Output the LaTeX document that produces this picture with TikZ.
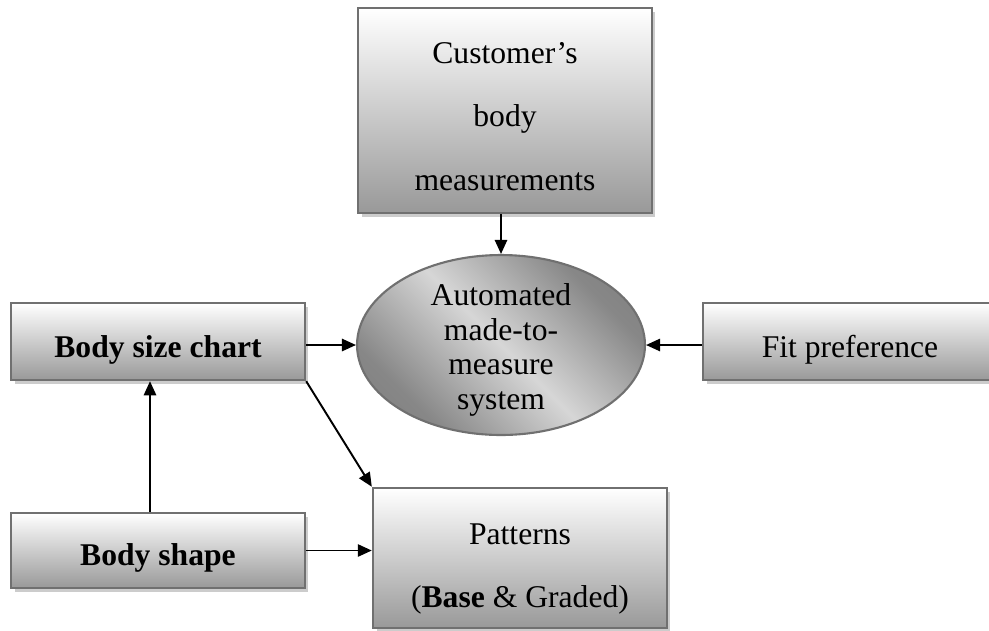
\documentclass[tikz,border=0pt]{standalone}
\usepackage{fontspec}
\setmainfont{Liberation Serif}
\usetikzlibrary{shapes.geometric,arrows.meta,shadows}

\pgfdeclarehorizontalshading{ellshade}{100bp}{%
  color(0bp)=(black!55); color(28bp)=(black!47); color(50bp)=(black!16);
  color(72bp)=(black!47); color(100bp)=(black!55)}

% centred block of lines, lowered by #1, taking no vertical room of its own
\newcommand\ctext[2]{\raisebox{#1}[0pt][0pt]{\begin{tabular}{@{}c@{}}#2\end{tabular}}}

\begin{document}
\begin{tikzpicture}[x=0.02cm,y=-0.02cm,
  box/.style={draw=black!56, line width=1.4pt, rectangle,
    top color=white, bottom color=black!40,
    minimum width=5.88cm, inner sep=0pt, align=center,
    font=\fontsize{18}{36}\selectfont,
    drop shadow={shadow xshift=2pt, shadow yshift=-2pt, fill=black!20, opacity=1}},
  hub/.style={draw=black!56, line width=1.2pt, ellipse, shading=ellshade, shading angle=45,
    minimum width=5.76cm, minimum height=3.6cm, inner sep=0pt, align=center,
    font=\fontsize{18}{19.6}\selectfont},
  link/.style={line width=1.1pt, -{Triangle[length=8pt,width=7pt]}}
]
\useasboundingbox (0,0) rectangle (989,630);

% inputs and outputs
\node[box, minimum height=4.1cm] (cust) at (505,110.5)
  {\ctext{-6.4pt}{Customer's\\body\\measurements}};
\node[box, minimum height=1.54cm] (chart) at (158,341.5)
  {\ctext{-6.4pt}{\textbf{Body size chart}}};
\node[box, minimum height=1.54cm] (fit) at (850,341.5)
  {\ctext{-6.4pt}{Fit preference}};
\node[box, minimum height=1.5cm] (shape) at (158,550.5)
  {\ctext{-5.9pt}{\textbf{Body shape}}};
\node[box, minimum height=2.8cm] (pat) at (520,558)
  {\ctext{-7.3pt}{Patterns\\(\textbf{Base} \& Graded)}};

% central system
\node[hub] (sys) at (501,345)
  {\ctext{-7.5pt}{Automated\\made-to-\\measure\\system}};

% connectors
\draw[link] (sys.north |- cust.south) -- (sys.north);
\draw[link] (chart.east |- sys.west) -- (sys.west);
\draw[link] (fit.west |- sys.east) -- (sys.east);
\draw[link] ([xshift=-0.16cm]shape.north) -- ([xshift=-0.16cm]chart.south);
\draw[link] (shape.east) -- (shape.east -| pat.west);
\draw[link] (chart.south east) -- (pat.north west);
\end{tikzpicture}
\end{document}
